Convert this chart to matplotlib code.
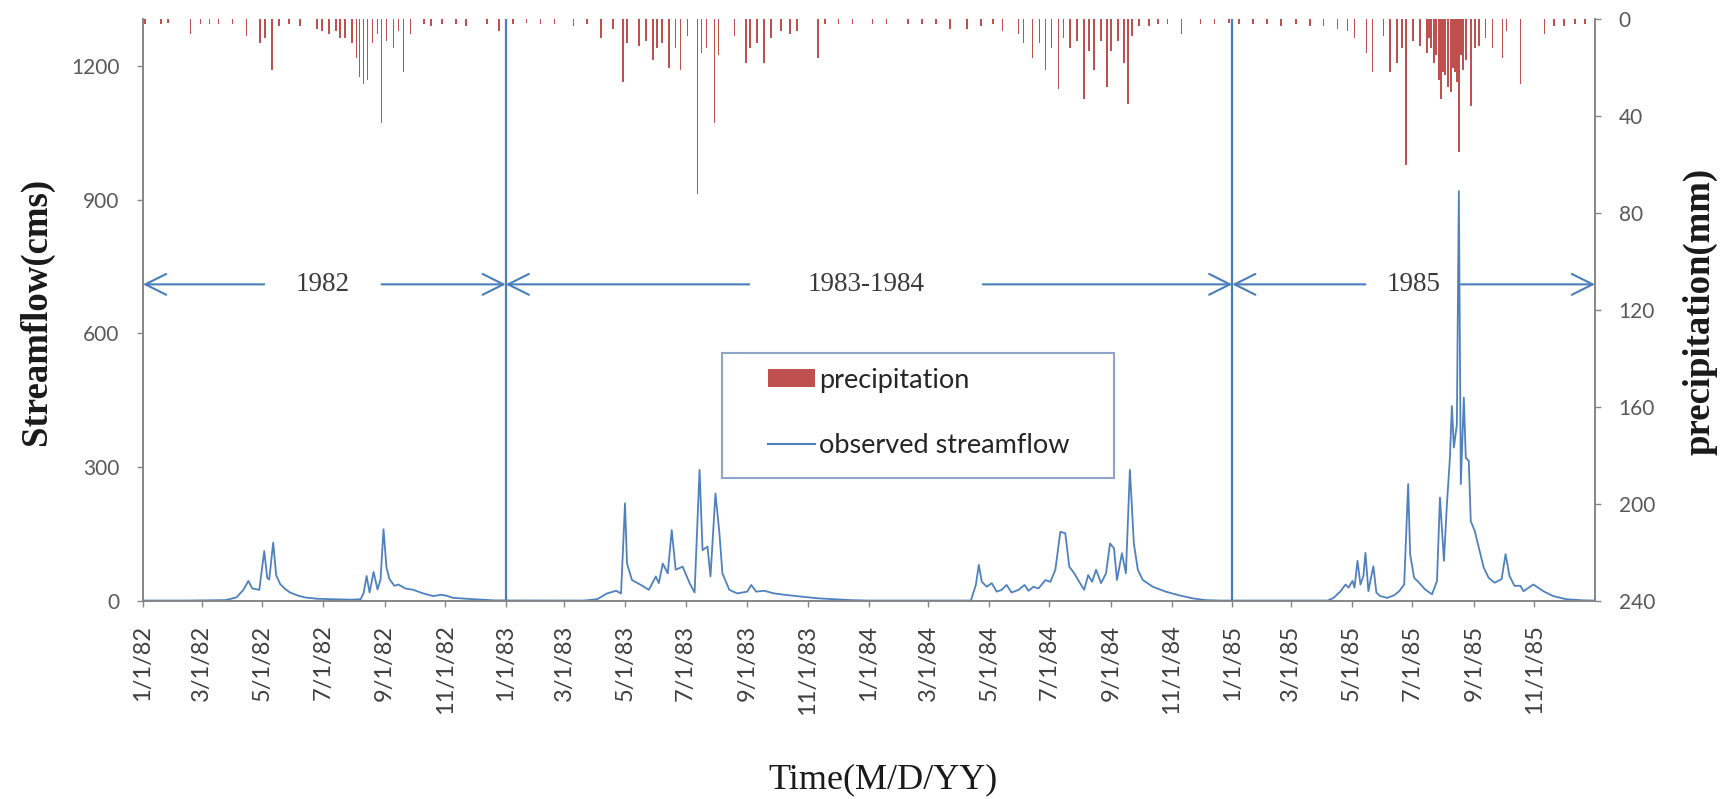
import matplotlib
matplotlib.use("Agg")
import matplotlib.pyplot as plt
import matplotlib.dates as mdates
import pandas as pd
from matplotlib.patches import Patch, Rectangle
from matplotlib.lines import Line2D

# ---------------- data ----------------
flow_1982_dates = ['1982-01-01', '1982-02-15', '1982-03-25', '1982-04-05', '1982-04-12', '1982-04-17',
                   '1982-04-21', '1982-04-28', '1982-05-03', '1982-05-06', '1982-05-08', '1982-05-12',
                   '1982-05-15', '1982-05-19', '1982-05-24', '1982-05-29', '1982-06-06', '1982-06-13',
                   '1982-06-25', '1982-07-10', '1982-07-30', '1982-08-08', '1982-08-11', '1982-08-14',
                   '1982-08-17', '1982-08-21', '1982-08-25', '1982-08-28', '1982-08-31', '1982-09-03',
                   '1982-09-06', '1982-09-11', '1982-09-15', '1982-09-22', '1982-09-30', '1982-10-10',
                   '1982-10-20', '1982-10-28', '1982-11-02', '1982-11-09', '1982-11-30', '1982-12-20']
flow_1982_cms = [1, 1, 2, 8, 25, 45, 28, 25, 112, 52, 48, 131, 58, 38, 27, 19, 12, 8, 5, 4, 3, 4,
                 18, 56, 19, 65, 26, 48, 161, 75, 49, 34, 37, 28, 25, 17, 11, 14, 12, 7, 4, 1.5]

flow_1983_dates = ['1983-01-01', '1983-02-15', '1983-03-21', '1983-04-03', '1983-04-13', '1983-04-22',
                   '1983-04-27', '1983-05-01', '1983-05-03', '1983-05-08', '1983-05-17', '1983-05-25',
                   '1983-06-01', '1983-06-04', '1983-06-08', '1983-06-13', '1983-06-17', '1983-06-21',
                   '1983-06-28', '1983-07-05', '1983-07-10', '1983-07-15', '1983-07-18', '1983-07-23',
                   '1983-07-26', '1983-07-31', '1983-08-04', '1983-08-07', '1983-08-14', '1983-08-22',
                   '1983-09-01', '1983-09-05', '1983-09-10', '1983-09-18', '1983-09-28', '1983-10-12',
                   '1983-10-25', '1983-11-11', '1983-11-28', '1983-12-14']
flow_1983_cms = [1.2, 1, 1, 4, 17, 23, 17, 219, 84, 47, 36, 25, 55, 40, 84, 62, 159, 70, 77, 40, 19,
                 294, 114, 122, 55, 241, 152, 62, 25, 17, 21, 36, 21, 23, 17, 13, 10, 6, 4, 2]

flow_1984_dates = ['1984-01-01', '1984-02-15', '1984-04-13', '1984-04-18', '1984-04-21', '1984-04-24',
                   '1984-04-29', '1984-05-04', '1984-05-09', '1984-05-14', '1984-05-19', '1984-05-24',
                   '1984-05-31', '1984-06-06', '1984-06-10', '1984-06-15', '1984-06-20', '1984-06-27',
                   '1984-07-02', '1984-07-07', '1984-07-12', '1984-07-17', '1984-07-21', '1984-07-26',
                   '1984-07-31', '1984-08-05', '1984-08-09', '1984-08-13', '1984-08-17', '1984-08-22',
                   '1984-08-27', '1984-08-31', '1984-09-04', '1984-09-07', '1984-09-12', '1984-09-16',
                   '1984-09-20', '1984-09-24', '1984-09-28', '1984-10-03', '1984-10-13', '1984-10-26',
                   '1984-11-08', '1984-11-22', '1984-12-05', '1984-12-20']
flow_1984_cms = [1, 1, 1, 36, 81, 43, 32, 40, 21, 25, 36, 19, 25, 36, 23, 32, 28, 47, 43, 70, 155,
                 152, 77, 62, 43, 25, 58, 43, 70, 40, 62, 129, 118, 47, 107, 62, 294, 129, 70, 47,
                 32, 21, 13, 6, 2, 1]

flow_1985_dates = ['1985-01-01', '1985-02-15', '1985-04-07', '1985-04-13', '1985-04-20', '1985-04-25',
                   '1985-04-28', '1985-05-02', '1985-05-04', '1985-05-07', '1985-05-10', '1985-05-13',
                   '1985-05-15', '1985-05-18', '1985-05-20', '1985-05-23', '1985-05-26', '1985-05-30',
                   '1985-06-06', '1985-06-13', '1985-06-18', '1985-06-23', '1985-06-27', '1985-06-29',
                   '1985-07-03', '1985-07-08', '1985-07-14', '1985-07-21', '1985-07-26', '1985-07-29',
                   '1985-08-02', '1985-08-05', '1985-08-08', '1985-08-10', '1985-08-12', '1985-08-15',
                   '1985-08-17', '1985-08-19', '1985-08-22', '1985-08-24', '1985-08-27', '1985-08-29',
                   '1985-09-02', '1985-09-07', '1985-09-11', '1985-09-16', '1985-09-22', '1985-09-29',
                   '1985-10-03', '1985-10-07', '1985-10-12', '1985-10-18', '1985-10-21', '1985-10-31',
                   '1985-11-10', '1985-11-20', '1985-12-03', '1985-12-20', '1985-12-31']
flow_1985_cms = [1, 1, 1, 7, 22, 37, 30, 45, 30, 90, 37, 56, 108, 22, 45, 78, 19, 11, 7, 13, 22, 37,
                 262, 105, 52, 41, 26, 15, 45, 232, 90, 217, 321, 437, 344, 396, 919, 262, 456, 321,
                 314, 179, 157, 112, 75, 52, 41, 49, 105, 56, 34, 34, 22, 37, 22, 11, 4, 1.5, 1]

precip_1982_dates = ['1982-01-03', '1982-01-19', '1982-01-26', '1982-02-18', '1982-02-28', '1982-03-09',
                     '1982-03-18', '1982-04-01', '1982-04-15', '1982-04-29', '1982-05-04', '1982-05-11',
                     '1982-05-18', '1982-05-28', '1982-06-08', '1982-06-25', '1982-06-30', '1982-07-07',
                     '1982-07-14', '1982-07-18', '1982-07-23', '1982-07-30', '1982-08-04', '1982-08-07',
                     '1982-08-11', '1982-08-15', '1982-08-20', '1982-08-25', '1982-08-29', '1982-09-03',
                     '1982-09-10', '1982-09-15', '1982-09-20', '1982-09-27', '1982-10-11', '1982-10-18',
                     '1982-10-29', '1982-11-12', '1982-11-22', '1982-12-13', '1982-12-25']
precip_1982_mm = [2, 2, 1.5, 6, 2, 2, 2, 2, 7, 10, 8, 21, 3, 2, 3, 4, 5, 6, 5, 8, 8, 10, 16, 24, 27,
                  25, 10, 6, 43, 9, 12, 5, 22, 6, 2, 3, 2, 2, 3, 2, 5]

precip_1983_dates = ['1983-01-08', '1983-01-22', '1983-02-05', '1983-02-19', '1983-03-10', '1983-03-24',
                     '1983-04-07', '1983-04-19', '1983-04-29', '1983-05-03', '1983-05-15', '1983-05-22',
                     '1983-05-29', '1983-06-02', '1983-06-07', '1983-06-14', '1983-06-21', '1983-06-26',
                     '1983-07-03', '1983-07-13', '1983-07-17', '1983-07-22', '1983-07-30', '1983-08-03',
                     '1983-08-19', '1983-08-31', '1983-09-04', '1983-09-11', '1983-09-18', '1983-09-25',
                     '1983-10-05', '1983-10-14', '1983-10-21', '1983-11-11', '1983-11-18', '1983-12-02',
                     '1983-12-16']
precip_1983_mm = [2, 1.5, 2, 2, 3, 2, 8, 4, 26, 10, 11, 9, 17, 12, 10, 20, 12, 21, 7, 72, 14, 12, 43,
                  15, 7, 18, 12, 10, 18, 8, 5, 6, 5, 16, 2, 2, 2]

precip_1984_dates = ['1984-01-05', '1984-01-19', '1984-02-10', '1984-02-24', '1984-03-09', '1984-03-23',
                     '1984-04-09', '1984-04-23', '1984-05-05', '1984-05-15', '1984-05-31', '1984-06-05',
                     '1984-06-14', '1984-06-21', '1984-06-27', '1984-07-03', '1984-07-10', '1984-07-15',
                     '1984-07-22', '1984-07-29', '1984-08-05', '1984-08-10', '1984-08-15', '1984-08-22',
                     '1984-08-28', '1984-09-01', '1984-09-08', '1984-09-14', '1984-09-18', '1984-09-22',
                     '1984-09-29', '1984-10-09', '1984-10-18', '1984-10-28', '1984-11-11', '1984-11-30',
                     '1984-12-14', '1984-12-29']
precip_1984_mm = [2, 2, 2, 2, 2, 4, 4, 3, 2, 5, 6, 10, 16, 10, 21, 12, 29, 8, 12, 9, 33, 13, 21, 9,
                  28, 13, 9, 18, 35, 7, 3, 3, 2, 2, 6, 2, 2, 1.5]

precip_1985_dates = ['1985-01-08', '1985-01-22', '1985-02-05', '1985-02-19', '1985-03-06', '1985-03-20',
                     '1985-04-03', '1985-04-17', '1985-04-27', '1985-05-04', '1985-05-16', '1985-05-22',
                     '1985-06-02', '1985-06-09', '1985-06-16', '1985-06-21', '1985-06-25', '1985-07-02',
                     '1985-07-09', '1985-07-16', '1985-07-18', '1985-07-20', '1985-07-23', '1985-07-25',
                     '1985-07-28', '1985-07-30', '1985-08-01', '1985-08-03', '1985-08-06', '1985-08-09',
                     '1985-08-11', '1985-08-13', '1985-08-15', '1985-08-17', '1985-08-19', '1985-08-21',
                     '1985-08-24', '1985-08-29', '1985-09-02', '1985-09-06', '1985-09-13', '1985-09-20',
                     '1985-09-30', '1985-10-04', '1985-10-18', '1985-11-11', '1985-11-21', '1985-12-01',
                     '1985-12-12', '1985-12-22']
precip_1985_mm = [2, 2, 2, 3, 2, 3, 3, 4, 5, 8, 14, 22, 7, 22, 18, 12, 60, 9, 11, 14, 8, 12, 18, 15,
                  25, 33, 22, 23, 28, 30, 20, 22, 26, 55, 15, 21, 17, 36, 12, 11, 8, 12, 16, 5, 27,
                  6, 3, 3, 2, 2]

x_tick_labels = ['1/1/82', '3/1/82', '5/1/82', '7/1/82', '9/1/82', '11/1/82',
                 '1/1/83', '3/1/83', '5/1/83', '7/1/83', '9/1/83', '11/1/83',
                 '1/1/84', '3/1/84', '5/1/84', '7/1/84', '9/1/84', '11/1/84',
                 '1/1/85', '3/1/85', '5/1/85', '7/1/85', '9/1/85', '11/1/85']
flow_ticks = [0, 300, 600, 900, 1200]
precip_ticks = [0, 40, 80, 120, 160, 200, 240]
axis_start, axis_end = '1982-01-01', '1986-01-01'

boundary_dates = ['1983-01-01', '1985-01-01']
period_labels = ['1982', '1983-1984', '1985']
period_start = ['1982-01-01', '1983-01-01', '1985-01-01']
period_end = ['1983-01-01', '1985-01-01', '1986-01-01']
period_gap_start = ['1982-05-03', '1983-09-03', '1985-05-15']
period_gap_end = ['1982-08-29', '1984-04-25', '1985-08-19']
period_level = 710

legend_labels = ['precipitation', 'observed streamflow']


def to_num(dates):
    return mdates.date2num(pd.to_datetime(dates))


flow_dates = flow_1982_dates + flow_1983_dates + flow_1984_dates + flow_1985_dates
flow_cms = flow_1982_cms + flow_1983_cms + flow_1984_cms + flow_1985_cms
precip_dates = precip_1982_dates + precip_1983_dates + precip_1984_dates + precip_1985_dates
precip_mm = precip_1982_mm + precip_1983_mm + precip_1984_mm + precip_1985_mm

FLOW_C = '#4F81BD'
RAIN_C = '#C0504D'
GUIDE_C = '#4A7EBB'
AXIS_C = '#868686'
TICK_TXT = '#595959'

W, H = 1723, 799
fig = plt.figure(figsize=(W / 100, H / 100), dpi=100)
ax = fig.add_axes([143 / W, 1 - 601 / H, (1595 - 143) / W, (601 - 19) / H])
ax2 = ax.twinx()

ax.plot(to_num(flow_dates), flow_cms, color=FLOW_C, lw=1.3, zorder=3)
ax2.bar(to_num(precip_dates), precip_mm, width=1.6, color=RAIN_C, linewidth=0, zorder=2)

ax.set_xlim(to_num([axis_start])[0], to_num([axis_end])[0])
ax.set_ylim(0, 1305)
ax2.set_ylim(240, 0)

tick_pos = mdates.date2num(pd.to_datetime(x_tick_labels, format='%m/%d/%y'))
ax.set_xticks(tick_pos)
ax.set_xticklabels(x_tick_labels, rotation=90, fontfamily='Lato', fontsize=17, color='#404040')
ax.set_yticks(flow_ticks)
ax.set_yticklabels([str(v) for v in flow_ticks], fontfamily='Lato', fontsize=15, color=TICK_TXT)
ax2.set_yticks(precip_ticks)
ax2.set_yticklabels([str(v) for v in precip_ticks], fontfamily='Lato', fontsize=15, color=TICK_TXT)

ax.tick_params(axis='x', direction='out', length=4, width=1, color=AXIS_C, pad=13)
ax.tick_params(axis='y', direction='out', length=4, width=1, color=AXIS_C, pad=13)
ax2.tick_params(axis='y', direction='out', length=4, width=1, color=AXIS_C, pad=13)

for a in (ax, ax2):
    a.spines['top'].set_visible(False)
    for s in ('left', 'right', 'bottom'):
        a.spines[s].set_color(AXIS_C)
        a.spines[s].set_linewidth(1.2)

# year boundaries
for d in to_num(boundary_dates):
    ax.axvline(d, color=GUIDE_C, lw=1.6, zorder=4)

# period arrows
arrow_kw = dict(arrowstyle='->,head_length=0.6,head_width=0.3', color=GUIDE_C, lw=1.5,
                shrinkA=0, shrinkB=0, mutation_scale=25)
for lab, s, e, gs, ge in zip(period_labels, period_start, period_end, period_gap_start, period_gap_end):
    s_, e_, gs_, ge_ = to_num([s, e, gs, ge])
    ax.annotate('', xy=(s_, period_level), xytext=(gs_, period_level), arrowprops=arrow_kw, zorder=5)
    ax.annotate('', xy=(e_, period_level), xytext=(ge_, period_level), arrowprops=arrow_kw, zorder=5)
    ax.text((gs_ + ge_) / 2, period_level, lab, ha='center', va='center',
            fontfamily='Liberation Serif', fontsize=19.5, color='#3a3a3a', zorder=6)

# legend with a plain rectangular frame
frame = Rectangle((0.399, 0.211), 0.270, 0.215, transform=ax2.transAxes, facecolor='white',
                  edgecolor='#8EA4C8', lw=1.5, zorder=4)
ax2.add_patch(frame)
handles = [Patch(facecolor=RAIN_C, edgecolor='none'), Line2D([], [], color=FLOW_C, lw=1.5)]
leg = ax2.legend(handles, legend_labels, loc='upper left', bbox_to_anchor=(0.4304, 0.401),
                 frameon=False, borderpad=0, borderaxespad=0, handlelength=1.75, handleheight=0.6,
                 handletextpad=0.15, labelspacing=1.5, prop={'family': 'Lato', 'size': 19.5})
leg.set_zorder(6)
for t in leg.get_texts():
    t.set_color('#262626')

# axis titles
fig.text(36 / W, 1 - 311 / H, 'Streamflow(cms)', rotation=90, ha='center', va='center',
         fontfamily='Liberation Serif', fontweight='bold', fontsize=26.5, color='#1a1a1a')
fig.text(1700 / W, 1 - 311 / H, 'precipitation(mm)', rotation=90, ha='center', va='center',
         fontfamily='Liberation Serif', fontweight='bold', fontsize=26.5, color='#1a1a1a')
fig.text(883 / W, 1 - 780 / H, 'Time(M/D/YY)', ha='center', va='center',
         fontfamily='Liberation Serif', fontsize=26, color='#1a1a1a')

fig.savefig('out.png', dpi=100, facecolor='white')
